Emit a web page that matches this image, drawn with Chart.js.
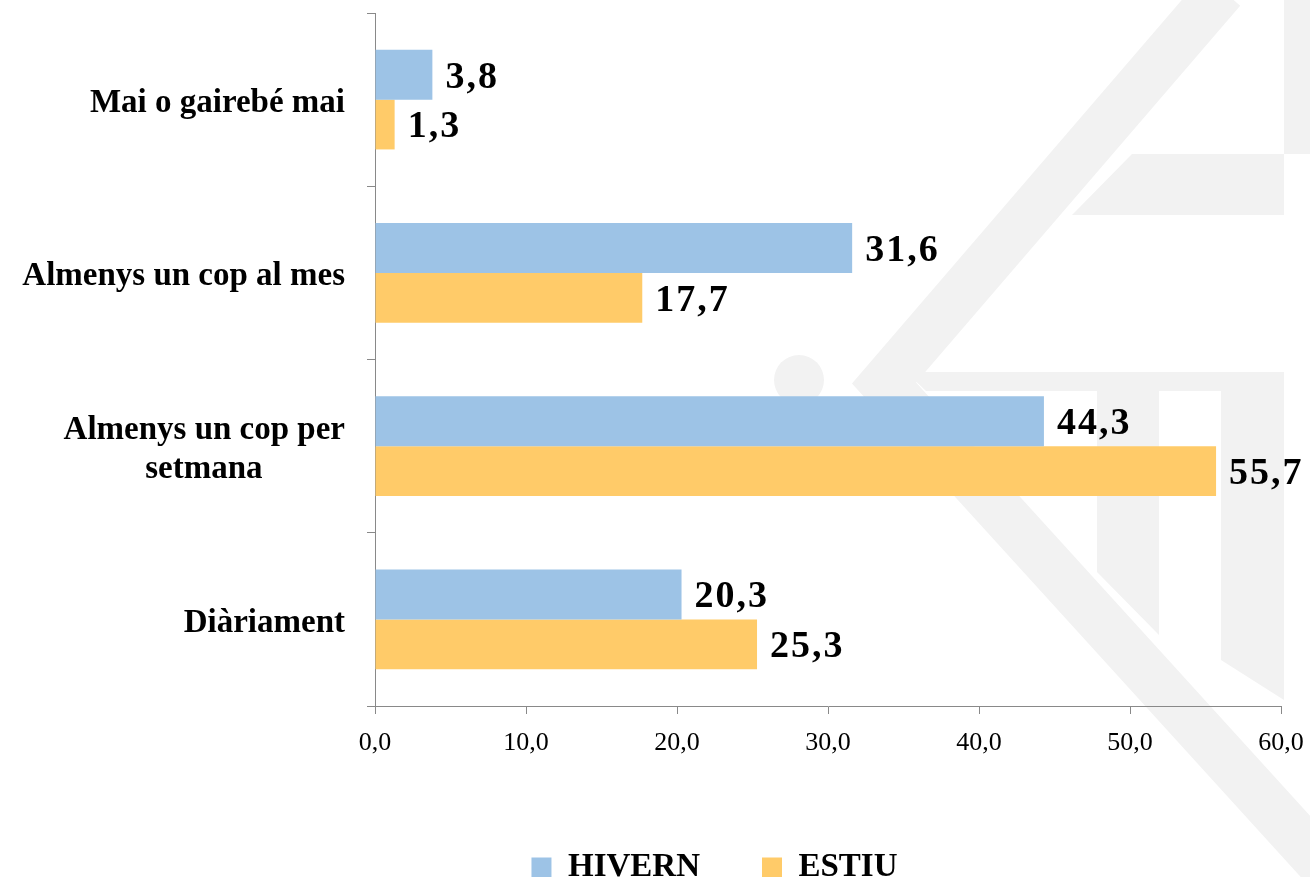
<!DOCTYPE html>
<html>
<head>
<meta charset="utf-8">
<script src="https://cdn.jsdelivr.net/npm/chart.js@4"></script>
<style>
  html, body { margin: 0; padding: 0; background: #fff; }
  #wrap { width: 1310px; height: 877px; }
</style>
</head>
<body>
<div id="wrap"><canvas id="myChart"></canvas></div>
<script>
'use strict';

const categories = [['Mai o gairebé mai'], ['Almenys un cop al mes'], ['Almenys un cop per', 'setmana'], ['Diàriament']];
const seriesNames = ['HIVERN', 'ESTIU'];
const hivern = [3.8, 31.6, 44.3, 20.3];
const estiu = [1.3, 17.7, 55.7, 25.3];
const xTicks = [0, 10, 20, 30, 40, 50, 60];

const FONT = '"Liberation Serif", "Times New Roman", serif';
const AXIS_GREY = '#898989';

function fmt(v) {
  return v.toFixed(1).replace('.', ',');
}

// centre the lines of a wrapped label under each other (right aligned by default)
const measure = document.createElement('canvas').getContext('2d');
measure.font = 'bold 33px ' + FONT;
function centerLines(lines) {
  const w = lines.map(l => measure.measureText(l).width);
  const max = Math.max(...w);
  const sp = measure.measureText('\u00a0').width;
  return lines.map((l, i) => l + '\u00a0'.repeat(Math.round((max - w[i]) / 2 / sp)));
}

// faint logo in the background
const watermark = {
  id: 'watermark',
  beforeDraw(chart) {
    const ctx = chart.ctx;
    ctx.save();
    ctx.fillStyle = '#f2f2f2';
    ctx.strokeStyle = '#f2f2f2';
    ctx.lineWidth = 48;
    ctx.lineJoin = 'miter';
    ctx.beginPath();
    ctx.moveTo(1222, -10);
    ctx.lineTo(884, 383);
    ctx.lineTo(1345, 890);
    ctx.stroke();

    function poly(pts) {
      ctx.beginPath();
      ctx.moveTo(pts[0][0], pts[0][1]);
      for (let i = 1; i < pts.length; i++) ctx.lineTo(pts[i][0], pts[i][1]);
      ctx.closePath();
      ctx.fill();
    }
    poly([[1284, 0], [1310, 0], [1310, 154], [1284, 154]]);
    poly([[1132, 154], [1284, 154], [1284, 215], [1072, 215]]);
    poly([[906, 372], [1284, 372], [1284, 391], [926, 391]]);
    poly([[1097, 391], [1159, 391], [1159, 635], [1097, 572]]);
    poly([[1221, 391], [1284, 391], [1284, 700], [1221, 660]]);
    ctx.beginPath();
    ctx.arc(799, 380, 25, 0, Math.PI * 2);
    ctx.fill();
    ctx.restore();
  }
};

const valueLabels = {
  id: 'valueLabels',
  afterDatasetsDraw(chart) {
    const ctx = chart.ctx;
    ctx.save();
    ctx.font = 'bold 38px ' + FONT;
    ctx.fillStyle = '#000';
    ctx.textAlign = 'left';
    ctx.textBaseline = 'middle';
    ctx.letterSpacing = '2px';
    chart.data.datasets.forEach((ds, i) => {
      chart.getDatasetMeta(i).data.forEach((bar, j) => {
        ctx.fillText(fmt(ds.data[j]), bar.x + 13, bar.y + 3);
      });
    });
    ctx.restore();
  }
};

// move the legend to where it sits in the original
const legendShift = {
  id: 'legendShift',
  afterUpdate(chart) {
    const lg = chart.legend;
    lg.left += 74;
    lg.right += 74;
    lg.top += 17;
    lg.bottom += 17;
  }
};

const ctx = document.getElementById('myChart').getContext('2d');
const myChart = new Chart(ctx, {
  type: 'bar',
  data: {
    labels: categories.map(centerLines),
    datasets: [{
      label: seriesNames[0],
      data: hivern,
      backgroundColor: '#9dc3e6',
      borderWidth: 0
    }, {
      label: seriesNames[1],
      data: estiu,
      backgroundColor: '#ffcb69',
      borderWidth: 0
    }]
  },
  options: {
    indexAxis: 'y',
    responsive: true,
    maintainAspectRatio: false,
    animation: false,
    categoryPercentage: 0.575,
    barPercentage: 1,
    layout: { padding: { top: 13, right: 29, left: 0, bottom: 0 } },
    scales: {
      x: {
        min: 0,
        max: 60,
        afterBuildTicks(scale) {
          scale.ticks = xTicks.map(v => ({ value: v }));
        },
        afterFit(scale) {
          scale.height = 66;
          scale.paddingLeft = 0;
          scale.paddingRight = 0;
        },
        border: { color: AXIS_GREY, width: 1 },
        grid: { drawOnChartArea: false, color: AXIS_GREY, tickLength: 8 },
        ticks: {
          color: '#000',
          padding: 14,
          maxRotation: 0,
          font: { family: FONT, size: 26 },
          callback: v => fmt(v)
        }
      },
      y: {
        afterFit(scale) {
          scale.width = 375;
          scale.paddingTop = 0;
          scale.paddingBottom = 0;
        },
        border: { color: AXIS_GREY, width: 1 },
        grid: { offset: true, drawOnChartArea: false, color: AXIS_GREY, tickLength: 8 },
        ticks: {
          color: '#000',
          padding: 22,
          labelOffset: 4,
          font: { family: FONT, size: 33, weight: 'bold', lineHeight: 1.18 }
        }
      }
    },
    plugins: {
      legend: {
        position: 'bottom',
        labels: {
          boxWidth: 20,
          boxHeight: 20,
          padding: 62,
          color: '#000',
          font: { family: FONT, size: 33, weight: 'bold' }
        }
      },
      tooltip: { enabled: false }
    }
  },
  plugins: [watermark, valueLabels, legendShift]
});
</script>
</body>
</html>
